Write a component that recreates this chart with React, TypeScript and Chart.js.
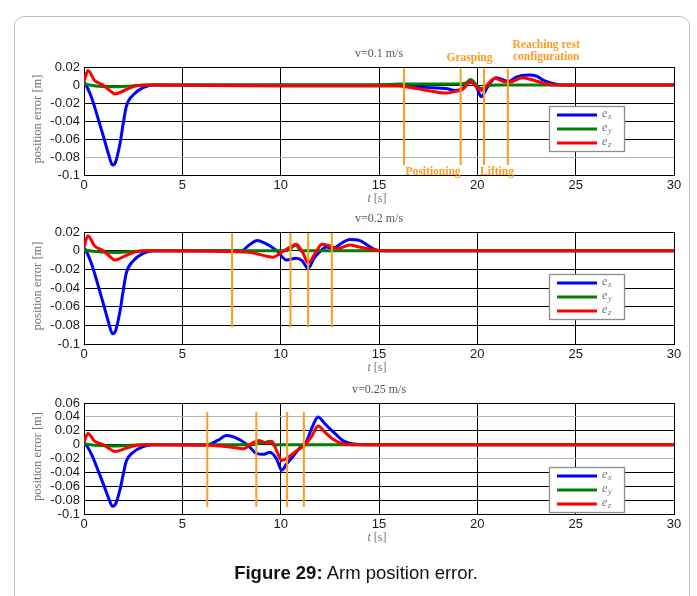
import React, { useEffect, useRef } from "react";
import { Chart, registerables } from "chart.js";
Chart.register(...registerables);

// ---------- data ----------
const X_TICKS = [0, 5, 10, 15, 20, 25, 30];
const SERIES_NAMES = ["x", "y", "z"];
const SERIES_COLORS = ["#0000ff", "#008000", "#ff0000"];

// initial transient (identical in the three runs)
const START_EX_T = [0, 0.15, 0.4, 0.7, 1.0, 1.25, 1.45, 1.6, 1.83, 2.0, 2.15, 2.5, 3.0, 3.5];
const START_EX_V = [0.003, -0.002, -0.015, -0.036, -0.058, -0.077, -0.089, -0.086, -0.065, -0.042, -0.024, -0.011, -0.003, 0];
const START_EY_T = [0, 0.6, 1.5, 2.4, 3.2];
const START_EY_V = [0.001, -0.001, -0.002, -0.001, 0];
const START_EZ_T = [0, 0.2, 0.54, 0.97, 1.3, 1.58, 2.15, 2.66, 3.2];
const START_EZ_V = [0.004, 0.016, 0.005, 0.0, -0.006, -0.01, -0.005, -0.001, 0];

// v = 0.1 m/s
const P1_EX_T = [16, 16.9, 17.7, 18.4, 18.9, 19.25, 19.66, 19.95, 20.2, 20.5, 20.95, 21.6, 22.0, 22.6, 23.0, 23.4, 24.0, 24.5, 30];
const P1_EX_V = [0, -0.002, -0.003, -0.004, -0.006, -0.004, 0.003, -0.002, -0.013, -0.003, 0.008, 0.004, 0.009, 0.011, 0.01, 0.005, 0.001, 0, 0];
const P1_EY_T = [15, 16, 19.0, 19.4, 19.66, 19.95, 20.2, 20.5, 21.0, 30];
const P1_EY_V = [0, 0.001, 0.001, 0.002, 0.006, 0.0, -0.004, -0.001, 0, 0];
const P1_EZ_T = [10, 16, 16.9, 17.7, 18.4, 18.9, 19.25, 19.66, 19.95, 20.2, 20.5, 20.9, 21.3, 21.6, 22.3, 22.9, 23.4, 23.9, 30];
const P1_EZ_V = [-0.001, -0.001, -0.004, -0.007, -0.009, -0.007, -0.005, 0.004, -0.002, -0.006, 0.0, 0.0075, 0.004, 0.003, 0.008, 0.005, 0.002, 0, 0];
const P1_MARKS = [16.27, 19.15, 20.34, 21.55];
const P1_MARK_RANGE = [0.018, -0.089];

// v = 0.2 m/s
const P2_EX_T = [8.0, 8.4, 8.8, 9.2, 9.8, 10.3, 10.8, 11.1, 11.4, 11.7, 12.1, 12.3, 12.7, 13.1, 13.5, 14.0, 14.4, 14.8, 15.2, 30];
const P2_EX_V = [0, 0.006, 0.011, 0.008, 0, -0.01, -0.008, -0.011, -0.019, -0.008, 0.001, 0.004, 0.003, 0.008, 0.012, 0.011, 0.006, 0.001, 0, 0];
const P2_EY_T = [10.3, 10.8, 11.0, 30];
const P2_EY_V = [0, 0.006, 0, 0];
const P2_EZ_T = [7.5, 8.5, 9.3, 9.6, 10.1, 10.5, 10.8, 11.1, 11.4, 11.8, 12.1, 12.5, 12.9, 13.5, 14.0, 14.7, 15.2, 30];
const P2_EZ_V = [-0.001, -0.002, -0.006, -0.007, -0.001, 0.004, 0.007, -0.001, -0.013, -0.001, 0.007, 0.005, 0.002, 0.006, 0.004, 0.001, 0, 0];
const P2_MARKS = [7.53, 10.5, 11.4, 12.6];
const P2_MARK_RANGE = [0.019, -0.082];

// v = 0.25 m/s
const P3_EX_T = [6.3, 6.8, 7.25, 7.7, 8.3, 8.8, 9.1, 9.45, 9.8, 10.05, 10.3, 10.65, 11.0, 11.25, 11.6, 11.9, 12.25, 12.5, 12.8, 13.2, 13.7, 14.5, 30];
const P3_EX_V = [0, 0.006, 0.013, 0.01, 0, -0.013, -0.014, -0.011, -0.021, -0.037, -0.028, -0.016, -0.004, 0.001, 0.025, 0.04, 0.03, 0.023, 0.015, 0.005, 0.001, 0, 0];
const P3_EY_T = [8.5, 9.3, 9.45, 9.6, 30];
const P3_EY_V = [0, 0.004, 0.005, 0, 0];
const P3_EZ_T = [6.3, 7.6, 8.1, 8.6, 8.9, 9.3, 9.55, 9.8, 10.05, 10.4, 10.8, 11.25, 11.6, 11.9, 12.25, 12.7, 13.2, 13.8, 30];
const P3_EZ_V = [-0.001, -0.004, -0.006, 0.003, 0.006, 0.002, 0.005, -0.009, -0.023, -0.018, -0.009, 0, 0.013, 0.027, 0.018, 0.007, 0.001, 0, 0];
const P3_MARKS = [6.27, 8.76, 10.33, 11.18];
const P3_MARK_RANGE = [0.047, -0.09];

// ---------- layout ----------
const W = 697;
const PLOT_LEFT = 84;
const PLOT_RIGHT = 674;
const PAD_TOP = 45;
const AXIS_H = 40;
const Y_AXIS_W = 50;
const ORANGE = "#ff9a1f";

type Note = { text: string; t: number; dy: number; from: "top" | "bottom" };
type PanelSpec = {
  title: string;
  plotTop: number;
  plotBottom: number;
  yMin: number;
  yMax: number;
  ex: [number[], number[]];
  ey: [number[], number[]];
  ez: [number[], number[]];
  marks: number[];
  markRange: number[];
  grayLines: number[];
  legendTop: number;
  notes: Note[];
};

const PANELS: PanelSpec[] = [
  {
    title: "v=0.1 m/s",
    plotTop: 67,
    plotBottom: 175,
    yMin: -0.1,
    yMax: 0.02,
    ex: [[...START_EX_T, ...P1_EX_T], [...START_EX_V, ...P1_EX_V]],
    ey: [[...START_EY_T, ...P1_EY_T], [...START_EY_V, ...P1_EY_V]],
    ez: [[...START_EZ_T, ...P1_EZ_T], [...START_EZ_V, ...P1_EZ_V]],
    marks: P1_MARKS,
    markRange: P1_MARK_RANGE,
    grayLines: [-0.08],
    legendTop: 39,
    notes: [
      { text: "Grasping", t: 19.6, dy: -9, from: "top" },
      { text: "Reaching rest", t: 23.5, dy: -22, from: "top" },
      { text: "configuration", t: 23.5, dy: -9.5, from: "top" },
      { text: "Positioning", t: 17.75, dy: -3, from: "bottom" },
      { text: "Lifting", t: 21.0, dy: -3, from: "bottom" },
    ],
  },
  {
    title: "v=0.2 m/s",
    plotTop: 232,
    plotBottom: 344,
    yMin: -0.1,
    yMax: 0.02,
    ex: [[...START_EX_T, ...P2_EX_T], [...START_EX_V, ...P2_EX_V]],
    ey: [[...START_EY_T, ...P2_EY_T], [...START_EY_V, ...P2_EY_V]],
    ez: [[...START_EZ_T, ...P2_EZ_T], [...START_EZ_V, ...P2_EZ_V]],
    marks: P2_MARKS,
    markRange: P2_MARK_RANGE,
    grayLines: [],
    legendTop: 42,
    notes: [],
  },
  {
    title: "v=0.25 m/s",
    plotTop: 403,
    plotBottom: 514,
    yMin: -0.1,
    yMax: 0.06,
    ex: [[...START_EX_T, ...P3_EX_T], [...START_EX_V, ...P3_EX_V]],
    ey: [[...START_EY_T, ...P3_EY_T], [...START_EY_V, ...P3_EY_V]],
    ez: [[...START_EZ_T, ...P3_EZ_T], [...START_EZ_V, ...P3_EZ_V]],
    marks: P3_MARKS,
    markRange: P3_MARK_RANGE,
    grayLines: [0.04, -0.02],
    legendTop: 64,
    notes: [],
  },
];

function pts(s: [number[], number[]]) {
  return s[0].map((x, i) => ({ x, y: s[1][i] }));
}

function fmt(v: number) {
  const n = Math.round(v * 100) / 100;
  return n === 0 ? "0" : String(n);
}

function makeConfig(spec: PanelSpec): any {
  const curves = [spec.ex, spec.ey, spec.ez].map((s, i) => ({
    type: "line",
    label: "e" + SERIES_NAMES[i],
    data: pts(s),
    borderColor: SERIES_COLORS[i],
    borderWidth: 3,
    pointRadius: 0,
    cubicInterpolationMode: "monotone",
    fill: false,
    order: 3 - i,
  }));
  const marks = spec.marks.map((t) => ({
    type: "line",
    label: "mark",
    data: [
      { x: t, y: spec.markRange[0] },
      { x: t, y: spec.markRange[1] },
    ],
    borderColor: ORANGE,
    borderWidth: 2,
    pointRadius: 0,
    fill: false,
    order: 0,
  }));

  const deco = {
    id: "deco",
    afterDatasetsDraw(chart: any) {
      const { ctx, chartArea: a } = chart;
      ctx.save();
      // legend box
      const lx = 549;
      const lw = 75;
      const lt = a.top + spec.legendTop;
      const lh = 45;
      ctx.fillStyle = "#ffffff";
      ctx.fillRect(lx, lt, lw, lh);
      ctx.strokeStyle = "#8c8c8c";
      ctx.lineWidth = 1.3;
      ctx.strokeRect(lx + 0.5, lt + 0.5, lw, lh);
      SERIES_NAMES.forEach((nm, i) => {
        const y = lt + 9 + i * 14;
        ctx.strokeStyle = SERIES_COLORS[i];
        ctx.lineWidth = 3;
        ctx.beginPath();
        ctx.moveTo(lx + 8, y);
        ctx.lineTo(lx + 48, y);
        ctx.stroke();
        ctx.fillStyle = "#6f6f80";
        ctx.textBaseline = "alphabetic";
        ctx.textAlign = "left";
        ctx.font = "italic 12px 'Liberation Serif'";
        ctx.fillText("e", lx + 53, y + 2);
        ctx.font = "italic 8px 'Liberation Serif'";
        ctx.fillText(nm, lx + 59, y + 4);
      });
      ctx.restore();
    },
    afterDraw(chart: any) {
      const { ctx, chartArea: a, scales } = chart;
      const x = scales.x;
      ctx.save();
      const cx = (a.left + a.right) / 2;
      // title
      ctx.fillStyle = "#555555";
      ctx.font = "12px 'Liberation Serif'";
      ctx.textAlign = "center";
      ctx.textBaseline = "middle";
      ctx.fillText(spec.title, cx, a.top - 13);
      // y axis title
      ctx.save();
      ctx.translate(38, (a.top + a.bottom) / 2 - 2);
      ctx.rotate(-Math.PI / 2);
      ctx.fillStyle = "#7d7068";
      ctx.font = "12.5px 'Liberation Serif'";
      ctx.fillText("position error [m]", 0, 0);
      ctx.restore();
      // x axis title "t [s]"
      ctx.fillStyle = "#777777";
      ctx.textAlign = "left";
      ctx.font = "italic 12px 'Liberation Serif'";
      const tw = ctx.measureText("t").width;
      ctx.font = "12px 'Liberation Serif'";
      const sw = ctx.measureText(" [s]").width;
      const x0 = cx - 2 - (tw + sw) / 2;
      ctx.font = "italic 12px 'Liberation Serif'";
      ctx.fillText("t", x0, a.bottom + 24);
      ctx.font = "12px 'Liberation Serif'";
      ctx.fillText(" [s]", x0 + tw, a.bottom + 24);
      // orange notes
      ctx.fillStyle = ORANGE;
      ctx.font = "bold 11.5px 'Liberation Serif'";
      ctx.textAlign = "center";
      spec.notes.forEach((n) => {
        const base = n.from === "top" ? a.top : a.bottom;
        ctx.fillText(n.text, x.getPixelForValue(n.t), base + n.dy);
      });
      ctx.restore();
    },
  };

  return {
    type: "line",
    data: { datasets: [...curves, ...marks] },
    options: {
      responsive: false,
      animation: false,
      events: [],
      layout: {
        padding: { top: PAD_TOP, left: PLOT_LEFT - Y_AXIS_W, right: W - PLOT_RIGHT, bottom: 0 },
      },
      plugins: { legend: { display: false }, tooltip: { enabled: false }, title: { display: false } },
      scales: {
        x: {
          type: "linear",
          min: 0,
          max: 30,
          afterFit: (s: any) => {
            s.height = AXIS_H;
          },
          afterBuildTicks: (s: any) => {
            s.ticks = X_TICKS.map((v) => ({ value: v }));
          },
          ticks: {
            autoSkip: false,
            padding: 3,
            color: "#1a1a1a",
            font: { family: "'Liberation Sans', Arial, sans-serif", size: 13 },
            maxRotation: 0,
          },
          grid: { color: "#000000", lineWidth: 1, drawTicks: false },
          border: { color: "#000000", width: 1 },
        },
        y: {
          type: "linear",
          min: spec.yMin,
          max: spec.yMax,
          afterFit: (s: any) => {
            s.width = Y_AXIS_W;
          },
          ticks: {
            autoSkip: false,
            stepSize: 0.02,
            padding: 4,
            color: "#1a1a1a",
            font: { family: "'Liberation Sans', Arial, sans-serif", size: 13 },
            callback: (v: any) => fmt(Number(v)),
          },
          grid: {
            drawTicks: false,
            lineWidth: 1,
            color: (c: any) => {
              const v = c.tick ? c.tick.value : 0;
              return spec.grayLines.some((g) => Math.abs(g - v) < 1e-6) ? "#b4b4b4" : "#000000";
            },
          },
          border: { color: "#000000", width: 1 },
        },
      },
    },
    plugins: [deco],
  };
}

function Panel({ spec }: { spec: PanelSpec }) {
  const ref = useRef<HTMLCanvasElement | null>(null);
  const h = PAD_TOP + (spec.plotBottom - spec.plotTop) + AXIS_H;
  useEffect(() => {
    if (!ref.current) return;
    const chart = new Chart(ref.current, makeConfig(spec));
    return () => chart.destroy();
  }, [spec]);
  return (
    <canvas
      ref={ref}
      width={W}
      height={h}
      style={{ position: "absolute", left: 0, top: spec.plotTop - PAD_TOP, width: W, height: h }}
    />
  );
}

export default function App() {
  return (
    <div
      style={{
        position: "absolute",
        left: 0,
        top: 0,
        width: W,
        height: 596,
        overflow: "hidden",
        background: "#ffffff",
      }}
    >
      <div
        style={{
          position: "absolute",
          left: 14,
          top: 16,
          width: 676,
          height: 640,
          border: "1px solid #c4c4c4",
          borderRadius: 10,
          boxSizing: "border-box",
        }}
      />
      {PANELS.map((p, i) => (
        <Panel key={i} spec={p} />
      ))}
      <div
        style={{
          position: "absolute",
          left: 0,
          width: 712,
          top: 561,
          textAlign: "center",
          fontFamily: "'Liberation Sans', Arial, sans-serif",
          fontSize: 18.5,
          color: "#111",
          lineHeight: "24px",
        }}
      >
        <b>Figure 29:</b> Arm position error.
      </div>
    </div>
  );
}
